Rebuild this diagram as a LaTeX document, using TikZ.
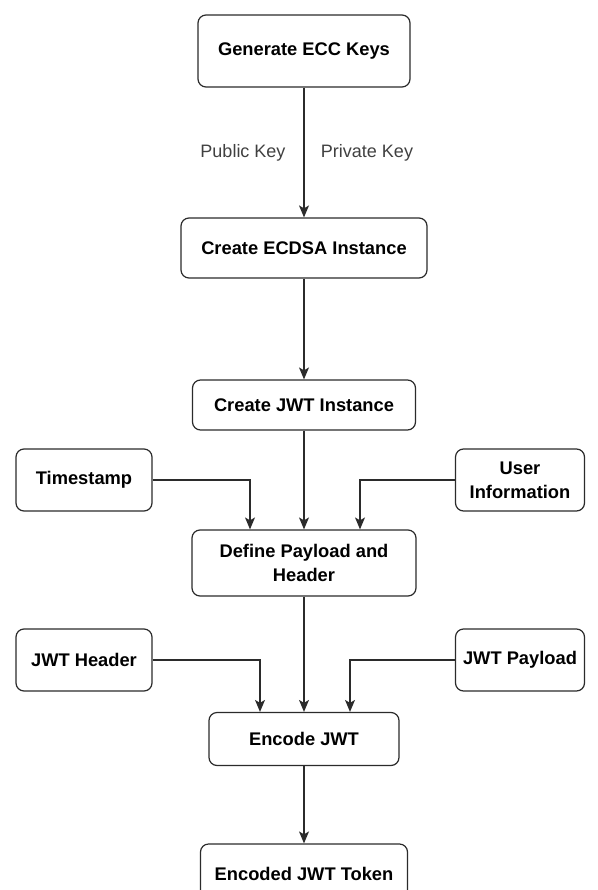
\documentclass[tikz,border=0pt]{standalone}
\usepackage{fontspec}
\setmainfont{Liberation Sans}
\usetikzlibrary{arrows.meta}
\definecolor{linegray}{HTML}{2B2B2B}
\tikzset{box/.style={draw=linegray, line width=1.2pt, rounded corners=8pt, fill=white, align=center, inner sep=2pt, font=\bfseries\fontsize{18.3}{24}\selectfont},
  keylabel/.style={text=black!75, font=\fontsize{18}{21}\selectfont}}
\begin{document}
\begin{tikzpicture}[x=1pt,y=-1pt, >={Stealth[length=12pt,width=10pt,inset=3pt]}]
\clip (0,0) rectangle (597,890);
\node[box, minimum width=212pt, minimum height=72pt] (A0) at (304,51) {Generate ECC Keys};
\node[box, minimum width=246pt, minimum height=60pt] (A1) at (304,248) {Create ECDSA Instance};
\node[box, minimum width=223pt, minimum height=50pt] (A2) at (304,405) {Create JWT Instance};
\node[box, minimum width=136pt, minimum height=62pt] (T) at (84,480) {Timestamp};
\node[box, minimum width=129pt, minimum height=62pt] (U) at (520,480) {User\\Information};
\node[box, minimum width=224pt, minimum height=66pt] (A3) at (304,563) {Define Payload and\\Header};
\node[box, minimum width=136pt, minimum height=62pt] (H) at (84,660) {JWT Header};
\node[box, minimum width=129pt, minimum height=62pt] (P) at (520,660) {JWT Payload};
\node[box, minimum width=190pt, minimum height=53pt] (A4) at (304,739) {Encode JWT};
\node[box, minimum width=207pt, minimum height=60pt] (A5) at (304,874) {Encoded JWT Token};
\node[keylabel] (L0) at (243,153) {Public Key};
\node[keylabel] (L1) at (367,153) {Private Key};
\draw [->, draw=linegray, line width=1.2pt] (A0) -- (A1);
\draw [->, draw=linegray, line width=1.2pt] (A1) -- (A2);
\draw [->, draw=linegray, line width=1.2pt] (A2) -- (A3);
\draw [->, draw=linegray, line width=1.2pt] (T) -| ([xshift=-54pt]A3.north);
\draw [->, draw=linegray, line width=1.2pt] (U) -| ([xshift=56pt]A3.north);
\draw [->, draw=linegray, line width=1.2pt] (A3) -- (A4);
\draw [->, draw=linegray, line width=1.2pt] (H) -| ([xshift=-44pt]A4.north);
\draw [->, draw=linegray, line width=1.2pt] (P) -| ([xshift=46pt]A4.north);
\draw [->, draw=linegray, line width=1.2pt] (A4) -- (A5);
\end{tikzpicture}
\end{document}
